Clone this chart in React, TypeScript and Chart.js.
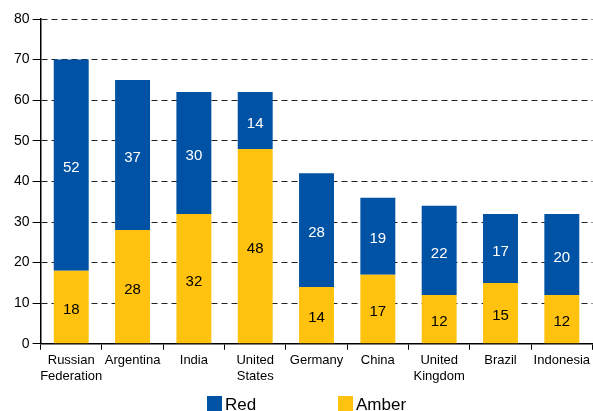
import React, { useEffect, useRef } from "react";
import { Chart, registerables } from "chart.js";

Chart.register(...registerables);

const countries: (string | string[])[] = [
  ["Russian", "Federation"],
  "Argentina",
  "India",
  ["United", "States"],
  "Germany",
  "China",
  ["United", "Kingdom"],
  "Brazil",
  "Indonesia",
];

const amberValues = [18, 28, 32, 48, 14, 17, 12, 15, 12];
const redValues = [52, 37, 30, 14, 28, 19, 22, 17, 20];

const RED_COLOR = "#0053A4";
const AMBER_COLOR = "#FFC20F";

const FONT = "Arial, 'Liberation Sans', Helvetica, sans-serif";

// Writes each segment's value in the middle of its bar piece
const segmentLabels = {
  id: "segmentLabels",
  afterDatasetsDraw(chart: Chart) {
    const { ctx } = chart;
    ctx.save();
    ctx.font = `15px ${FONT}`;
    ctx.textAlign = "center";
    ctx.textBaseline = "middle";
    chart.data.datasets.forEach((ds, di) => {
      const meta = chart.getDatasetMeta(di);
      ctx.fillStyle = di === 1 ? "#ffffff" : "#000000";
      meta.data.forEach((el: any, i) => {
        const v = ds.data[i] as number;
        const cy = (el.y + el.base) / 2 + 3;
        ctx.fillText(String(v), el.x, cy);
      });
    });
    ctx.restore();
  },
};

function LegendItem({ color, text }: { color: string; text: string }) {
  return (
    <div style={{ display: "flex", alignItems: "flex-start" }}>
      <div style={{ width: 15, height: 15, background: color, marginRight: 3 }} />
      <div
        style={{
          fontFamily: FONT,
          fontSize: 17,
          lineHeight: "17px",
          color: "#000",
          marginTop: 0,
        }}
      >
        {text}
      </div>
    </div>
  );
}

export default function App() {
  const canvasRef = useRef<HTMLCanvasElement | null>(null);

  useEffect(() => {
    if (!canvasRef.current) return;
    const chart = new Chart(canvasRef.current, {
      type: "bar",
      data: {
        labels: countries,
        datasets: [
          {
            label: "Amber",
            data: amberValues,
            backgroundColor: AMBER_COLOR,
            borderWidth: 0,
            barPercentage: 0.57,
            categoryPercentage: 1,
          },
          {
            label: "Red",
            data: redValues,
            backgroundColor: RED_COLOR,
            borderWidth: 0,
            barPercentage: 0.57,
            categoryPercentage: 1,
          },
        ],
      },
      options: {
        responsive: false,
        animation: false,
        devicePixelRatio: 1,
        layout: { padding: { left: 11, top: 19, right: 0, bottom: 24 } },
        plugins: {
          legend: { display: false },
          tooltip: { enabled: false },
        },
        scales: {
          x: {
            stacked: true,
            offset: true,
            grid: {
              offset: true,
              drawOnChartArea: false,
              drawTicks: true,
              tickLength: 6,
              color: "#000",
            },
            border: { color: "#000", width: 1.5 },
            ticks: {
              color: "#000",
              font: { family: FONT, size: 13 },
              padding: 3,
              maxRotation: 0,
              autoSkip: false,
            },
          },
          y: {
            stacked: true,
            min: 0,
            max: 80,
            ticks: {
              stepSize: 10,
              color: "#000",
              font: { family: FONT, size: 14 },
              padding: 3,
            },
            grid: {
              color: "#222",
              lineWidth: 1,
              tickLength: 8,
              tickBorderDash: [],
              tickColor: "#000",
            },
            border: { color: "#000", width: 1.5, dash: [6, 4] },
          },
        },
      },
      plugins: [segmentLabels],
    });
    return () => chart.destroy();
  }, []);

  return (
    <div
      style={{
        position: "fixed",
        left: 0,
        top: 0,
        width: 593,
        height: 411,
        overflow: "hidden",
        background: "#fff",
      }}
    >
      <canvas ref={canvasRef} width={593} height={411} style={{ display: "block" }} />
      <div style={{ position: "absolute", left: 207, top: 396 }}>
        <LegendItem color={RED_COLOR} text="Red" />
      </div>
      <div style={{ position: "absolute", left: 338, top: 396 }}>
        <LegendItem color={AMBER_COLOR} text="Amber" />
      </div>
    </div>
  );
}
